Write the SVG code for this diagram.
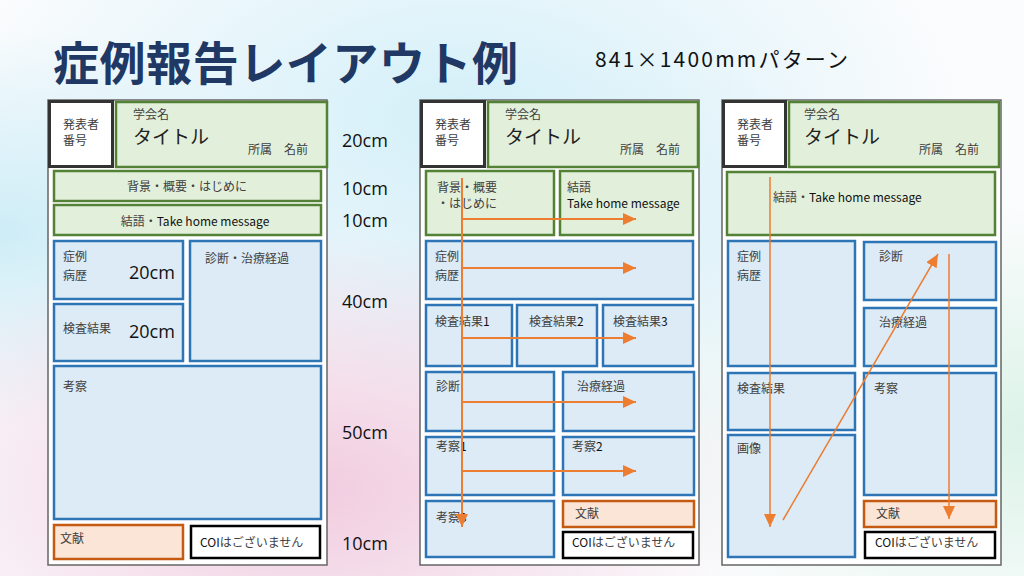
<svg xmlns="http://www.w3.org/2000/svg" width="1024" height="576" viewBox="0 0 1024 576">
<defs>
<radialGradient id="g1" cx="0.45" cy="0.2" r="0.5"><stop offset="0" stop-color="#cfeef8" stop-opacity="0.9"/><stop offset="1" stop-color="#cfeef8" stop-opacity="0"/></radialGradient>
<radialGradient id="g2" cx="0.3" cy="0.85" r="0.45"><stop offset="0" stop-color="#f0c6dc" stop-opacity="0.9"/><stop offset="1" stop-color="#f0c6dc" stop-opacity="0"/></radialGradient>
<radialGradient id="g3" cx="0" cy="0.4" r="0.35"><stop offset="0" stop-color="#c9ebf6" stop-opacity="0.9"/><stop offset="1" stop-color="#c9ebf6" stop-opacity="0"/></radialGradient>
<radialGradient id="g4" cx="1" cy="0.75" r="0.4"><stop offset="0" stop-color="#d8f2e6" stop-opacity="0.9"/><stop offset="1" stop-color="#d8f2e6" stop-opacity="0"/></radialGradient>
<radialGradient id="g5" cx="0.6" cy="0.45" r="0.35"><stop offset="0" stop-color="#d7eef8" stop-opacity="0.7"/><stop offset="1" stop-color="#d7eef8" stop-opacity="0"/></radialGradient>
<marker id="ah" markerUnits="userSpaceOnUse" markerWidth="14" markerHeight="12" refX="13" refY="6" orient="auto"><path d="M0,0 L13,6 L0,12 z" fill="#ED7D31"/></marker>
<style>
text{font-family:"Noto Sans CJK JP","Noto Sans",sans-serif;}
.lb{font-size:12px;fill:#404040;}
.en{font-size:12px;fill:#111;}
.cm{font-family:"Open Sans","Noto Sans",sans-serif;font-size:18px;fill:#111;}
.tt{font-size:19px;fill:#222;}
.outer{fill:#fff;stroke:#666;stroke-width:1.5;}
.num{fill:#fff;stroke:#333;stroke-width:3;}
.green{fill:#E2EFDA;stroke:#538135;stroke-width:2.5;}
.blue{fill:#DDEBF7;stroke:#2E75B6;stroke-width:2.5;}
.orange{fill:#FBE5D6;stroke:#C55A11;stroke-width:2.5;}
.black{fill:#fff;stroke:#000;stroke-width:2.5;}
.arr{fill:none;stroke:#ED7D31;stroke-width:2;}
.arr3{fill:none;stroke:#ED7D31;stroke-width:1.5;}
</style>
</defs>
<rect width="1024" height="576" fill="#fbfcfd"/>
<rect width="1024" height="576" fill="url(#g3)"/>
<rect width="1024" height="576" fill="url(#g1)"/>
<rect width="1024" height="576" fill="url(#g5)"/>
<rect width="1024" height="576" fill="url(#g2)"/>
<rect width="1024" height="576" fill="url(#g4)"/>

<text x="53" y="80" textLength="465" style="font-size:46px;font-weight:bold;fill:#1F3864;">症例報告レイアウト例</text>
<text x="595" y="67" textLength="253" style="font-size:21px;fill:#111;">841×1400mmパターン</text>

<g id="panel1">
<rect class="outer" x="48" y="100" width="279" height="465"/>
<g id="p1-num"><rect class="num" x="49.5" y="101.5" width="63" height="65"/><text class="lb" x="63" y="129">発表者</text><text class="lb" x="63" y="145">番号</text></g>
<g id="p1-title"><rect class="green" x="116" y="102" width="211" height="65"/><text class="lb" x="133" y="119">学会名</text><text class="tt" x="133" y="144">タイトル</text><text class="lb" x="248" y="154">所属　名前</text></g>
<g id="p1-bg"><rect class="green" x="54" y="171" width="267" height="30"/><text class="lb" x="187" y="191" text-anchor="middle">背景・概要・はじめに</text></g>
<g id="p1-concl"><rect class="green" x="54" y="205" width="267" height="30"/><text class="lb" x="195" y="226" text-anchor="middle">結語・<tspan fill="#111">Take home message</tspan></text></g>
<g id="p1-case"><rect class="blue" x="54" y="241" width="129" height="58"/><text class="lb" x="63" y="261">症例</text><text class="lb" x="63" y="280">病歴</text><text class="cm" x="129" y="279">20cm</text></g>
<g id="p1-exam"><rect class="blue" x="54" y="304" width="129" height="57"/><text class="lb" x="63" y="333">検査結果</text><text class="cm" x="129" y="338">20cm</text></g>
<g id="p1-diag"><rect class="blue" x="190" y="241" width="131" height="120"/><text class="lb" x="205" y="263">診断・治療経過</text></g>
<g id="p1-disc"><rect class="blue" x="54" y="366" width="267" height="153"/><text class="lb" x="63" y="391">考察</text></g>
<g id="p1-ref"><rect class="orange" x="54" y="525" width="129" height="34"/><text class="lb" x="60" y="543">文献</text></g>
<g id="p1-coi"><rect class="black" x="191" y="526" width="129" height="32"/><text class="lb" x="200" y="547"><tspan fill="#111">COI</tspan>はございません</text></g>
</g>

<g id="scale">
<text class="cm" x="342" y="147">20cm</text>
<text class="cm" x="342" y="195">10cm</text>
<text class="cm" x="342" y="227">10cm</text>
<text class="cm" x="342" y="308">40cm</text>
<text class="cm" x="342" y="439">50cm</text>
<text class="cm" x="342" y="550">10cm</text>
</g>

<g id="panel2">
<rect class="outer" x="420" y="100" width="279" height="465"/>
<g id="p2-num"><rect class="num" x="421.5" y="101.5" width="63" height="65"/><text class="lb" x="435" y="129">発表者</text><text class="lb" x="435" y="145">番号</text></g>
<g id="p2-title"><rect class="green" x="488" y="102" width="210" height="65"/><text class="lb" x="505" y="119">学会名</text><text class="tt" x="505" y="144">タイトル</text><text class="lb" x="620" y="154">所属　名前</text></g>
<g id="p2-bg"><rect class="green" x="426" y="171" width="128" height="64"/><text class="lb" x="437" y="192">背景・概要</text><text class="lb" x="437" y="208">・はじめに</text></g>
<g id="p2-concl"><rect class="green" x="560" y="171" width="133" height="64"/><text class="lb" x="567" y="192">結語</text><text class="en" x="567" y="208">Take home message</text></g>
<g id="p2-case"><rect class="blue" x="426" y="241" width="267" height="58"/><text class="lb" x="435" y="261">症例</text><text class="lb" x="435" y="280">病歴</text></g>
<g id="p2-ex1"><rect class="blue" x="426" y="305" width="86" height="61"/><text class="lb" x="435" y="326">検査結果<tspan fill="#111">1</tspan></text></g>
<g id="p2-ex2"><rect class="blue" x="517" y="305" width="80" height="61"/><text class="lb" x="529" y="326">検査結果<tspan fill="#111">2</tspan></text></g>
<g id="p2-ex3"><rect class="blue" x="603" y="305" width="90" height="61"/><text class="lb" x="613" y="326">検査結果<tspan fill="#111">3</tspan></text></g>
<g id="p2-diag"><rect class="blue" x="426" y="372" width="128" height="59"/><text class="lb" x="436" y="391">診断</text></g>
<g id="p2-treat"><rect class="blue" x="563" y="372" width="131" height="59"/><text class="lb" x="577" y="391">治療経過</text></g>
<g id="p2-d1"><rect class="blue" x="426" y="437" width="128" height="58"/><text class="lb" x="436" y="451">考察<tspan fill="#111">1</tspan></text></g>
<g id="p2-d2"><rect class="blue" x="563" y="437" width="131" height="58"/><text class="lb" x="572" y="451">考察<tspan fill="#111">2</tspan></text></g>
<g id="p2-d3"><rect class="blue" x="426" y="501" width="128" height="56"/><text class="lb" x="436" y="522">考察<tspan fill="#111">3</tspan></text></g>
<g id="p2-ref"><rect class="orange" x="563" y="501" width="131" height="26"/><text class="lb" x="575" y="518">文献</text></g>
<g id="p2-coi"><rect class="black" x="563" y="532" width="130" height="26"/><text class="lb" x="572" y="547"><tspan fill="#111">COI</tspan>はございません</text></g>
</g>

<g id="panel3">
<rect class="outer" x="722" y="100" width="279" height="465"/>
<g id="p3-num"><rect class="num" x="723.5" y="101.5" width="62" height="65"/><text class="lb" x="737" y="129">発表者</text><text class="lb" x="737" y="145">番号</text></g>
<g id="p3-title"><rect class="green" x="789" y="102" width="210" height="65"/><text class="lb" x="804" y="119">学会名</text><text class="tt" x="804" y="144">タイトル</text><text class="lb" x="919" y="154">所属　名前</text></g>
<g id="p3-concl"><rect class="green" x="727" y="172" width="268" height="63"/><text class="lb" x="773" y="202">結語・<tspan fill="#111">Take home message</tspan></text></g>
<g id="p3-case"><rect class="blue" x="728" y="241" width="127" height="125"/><text class="lb" x="737" y="261">症例</text><text class="lb" x="737" y="280">病歴</text></g>
<g id="p3-diag"><rect class="blue" x="864" y="242" width="132" height="58"/><text class="lb" x="879" y="261">診断</text></g>
<g id="p3-treat"><rect class="blue" x="864" y="308" width="132" height="58"/><text class="lb" x="879" y="327">治療経過</text></g>
<g id="p3-exam"><rect class="blue" x="728" y="373" width="127" height="57"/><text class="lb" x="737" y="393">検査結果</text></g>
<g id="p3-img"><rect class="blue" x="728" y="435" width="127" height="122"/><text class="lb" x="737" y="453">画像</text></g>
<g id="p3-disc"><rect class="blue" x="864" y="373" width="132" height="122"/><text class="lb" x="874" y="393">考察</text></g>
<g id="p3-ref"><rect class="orange" x="864" y="501" width="132" height="26"/><text class="lb" x="876" y="518">文献</text></g>
<g id="p3-coi"><rect class="black" x="865" y="532" width="130" height="26"/><text class="lb" x="875" y="547"><tspan fill="#111">COI</tspan>はございません</text></g>
</g>

<g id="connectors">
<path class="arr" d="M462,178 L462,527" marker-end="url(#ah)"/>
<path class="arr" d="M462,219 L636,219" marker-end="url(#ah)"/>
<path class="arr" d="M462,268 L636,268" marker-end="url(#ah)"/>
<path class="arr" d="M462,338 L636,338" marker-end="url(#ah)"/>
<path class="arr" d="M462,402 L636,402" marker-end="url(#ah)"/>
<path class="arr" d="M462,471 L636,471" marker-end="url(#ah)"/>
<path class="arr3" d="M770,177 L770,527" marker-end="url(#ah)"/>
<path class="arr3" d="M783,520 L938,254" marker-end="url(#ah)"/>
<path class="arr3" d="M949,254 L949,519" marker-end="url(#ah)"/>
</g>
</svg>
